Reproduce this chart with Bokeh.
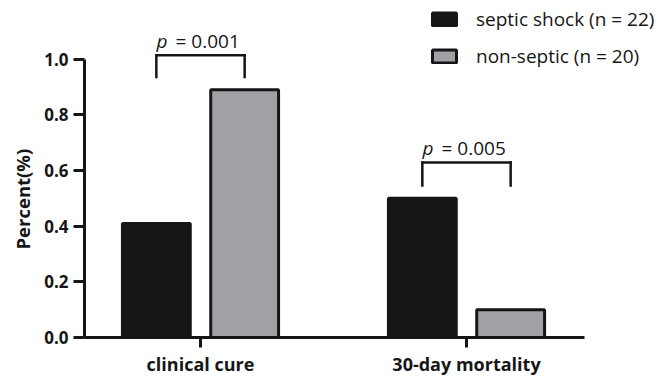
from bokeh.plotting import figure
from bokeh.models import (ColumnDataSource, Range1d, FixedTicker, PrintfTickFormatter,
                          Legend, LegendItem, Title)
from bokeh.transform import dodge
from bokeh.core.properties import value
from bokeh.embed import file_html
from bokeh.resources import INLINE

# ---- data -------------------------------------------------------------
categories = ["clinical cure", "30-day mortality"]
septic_shock = [0.41, 0.50]
non_septic = [0.89, 0.10]
series_labels = ["septic shock (n = 22)", "non-septic (n = 20)"]
p_values = ["0.001", "0.005"]
bracket_top = [1.014, 0.629]
bracket_bottom = [0.936, 0.546]
y_ticks = [0.0, 0.2, 0.4, 0.6, 0.8, 1.0]

# ---- styling ----------------------------------------------------------
INK = "#161616"
GREY = "#a1a0a5"
FONT = "Open Sans"
OFF = 0.166
BAR_W = 0.255
X0 = 0.5639

positions = [i + 1 for i in range(len(categories))]
src = ColumnDataSource(dict(
    x=positions, shock=septic_shock, non=non_septic,
    top=bracket_top, bot=bracket_bottom,
    pv=["= " + v for v in p_values], pp=["p" for _ in p_values],
))

p = figure(width=664, height=378, output_backend="svg", toolbar_location=None,
           x_range=Range1d(X0, 2.7444), y_range=Range1d(0, 1.2107),
           min_border_left=84, min_border_right=0, min_border_top=0, min_border_bottom=39)
p.outline_line_color = None
p.grid.grid_line_color = None
p.background_fill_color = "white"
p.border_fill_color = "white"

r1 = p.vbar(x=dodge("x", -OFF), top="shock", width=BAR_W, source=src,
            fill_color=INK, line_color=INK, line_width=3)
r2 = p.vbar(x=dodge("x", OFF), top="non", width=BAR_W, source=src,
            fill_color=GREY, line_color=INK, line_width=3)

# significance brackets
bk = dict(source=src, line_color=INK, line_width=2.5, line_cap="square")
p.segment(x0=dodge("x", -OFF), y0="top", x1=dodge("x", OFF), y1="top", **bk)
p.segment(x0=dodge("x", -OFF), y0="top", x1=dodge("x", -OFF), y1="bot", **bk)
p.segment(x0=dodge("x", OFF), y0="top", x1=dodge("x", OFF), y1="bot", **bk)

p.text(x="x", y="top", text="pp", source=src, x_offset=-44, y_offset=-14,
       text_font=value(FONT), text_font_style="italic", text_font_size="19px",
       text_color=INK, text_align="left", text_baseline="alphabetic")
p.text(x="x", y="top", text="pv", source=src, x_offset=-25, y_offset=-14,
       text_font=value(FONT), text_font_size="19px",
       text_color=INK, text_align="left", text_baseline="alphabetic")

# axes
for ax in (p.xaxis[0], p.yaxis[0]):
    ax.axis_line_width = 3
    ax.axis_line_color = INK
    ax.major_tick_line_width = 3
    ax.major_tick_line_color = INK
    ax.minor_tick_line_color = None
    ax.major_tick_in = 0
    ax.major_label_text_font = FONT
    ax.major_label_text_font_style = "bold"
    ax.major_label_text_font_size = "17px"
    ax.major_label_text_color = INK

p.yaxis.ticker = FixedTicker(ticks=y_ticks)
p.yaxis.formatter = PrintfTickFormatter(format="%.1f")
p.yaxis.bounds = (0, 1.0)
p.yaxis.major_tick_out = 11
p.yaxis.major_label_standoff = 5

ylabel = Title(text="Percent(%)", align="left", offset=88, standoff=13,
               text_font=FONT, text_font_style="bold", text_font_size="18.5px",
               text_color=INK)
p.add_layout(ylabel, "left")

p.xaxis.ticker = FixedTicker(ticks=positions)
p.xaxis.major_label_overrides = {pos: cat for pos, cat in zip(positions, categories)}
p.xaxis.bounds = (X0, 2.4436)
p.xaxis.major_tick_out = 10
p.xaxis.major_label_standoff = 4
p.xaxis.major_label_text_font_size = "18px"

legend = Legend(items=[LegendItem(label=series_labels[0], renderers=[r1]),
                       LegendItem(label=series_labels[1], renderers=[r2])],
                location=(345, 268), orientation="vertical",
                glyph_width=30, glyph_height=16, label_height=16, label_standoff=17,
                spacing=11, padding=0, margin=0,
                border_line_color=None, background_fill_alpha=0,
                label_text_font=FONT, label_text_font_size="19px", label_text_color=INK)
p.add_layout(legend)

open("out.html", "w").write(file_html(p, INLINE))
